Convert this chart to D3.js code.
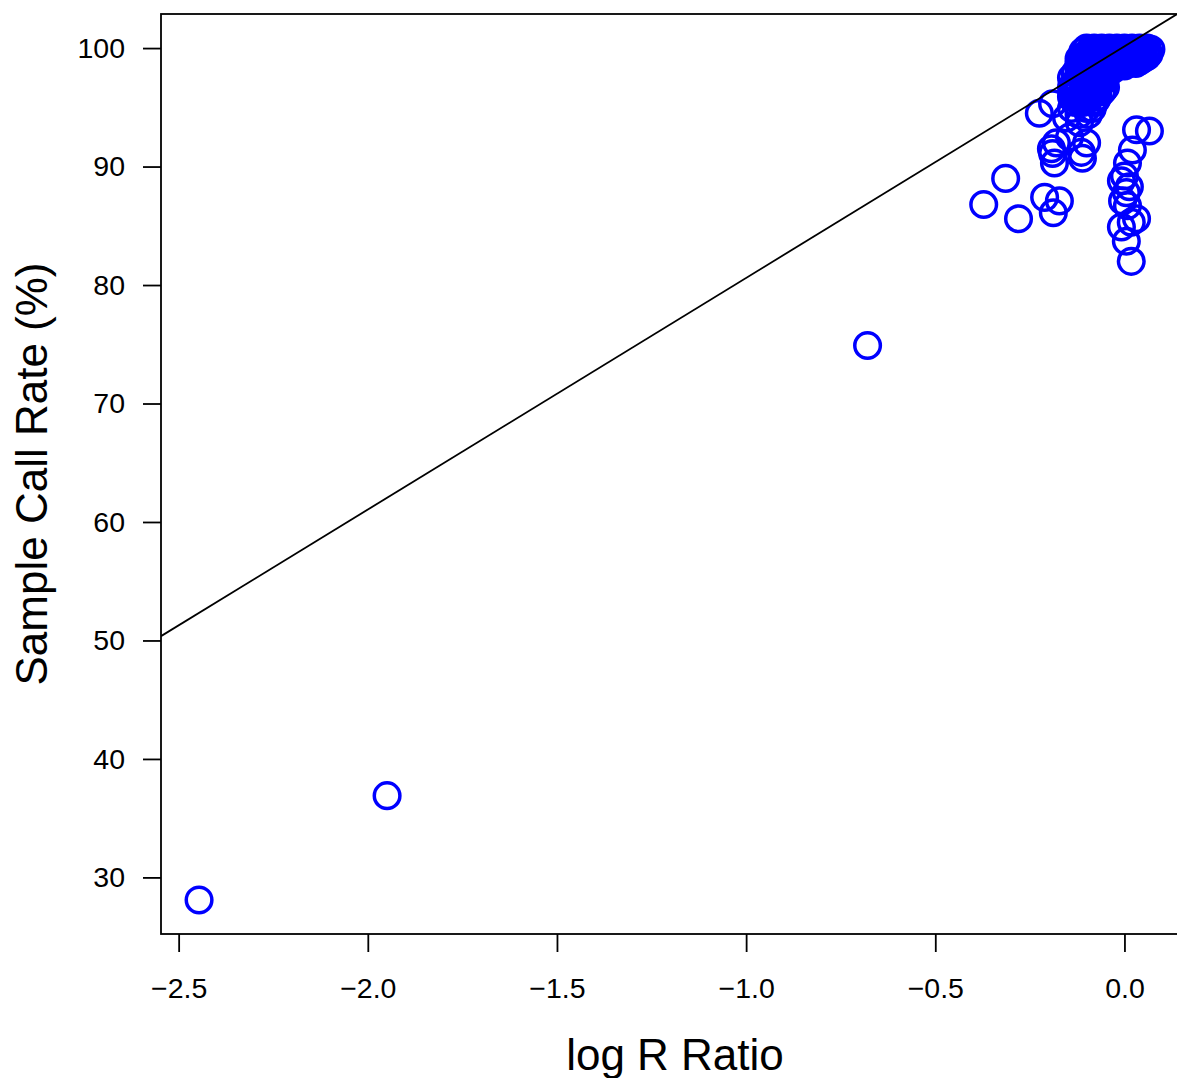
<!DOCTYPE html>
<html>
<head>
<meta charset="utf-8">
<script src="https://cdn.jsdelivr.net/npm/d3@7"></script>
<style>
  body { margin: 0; background: #fff; }
  svg text { font-family: "Liberation Sans", Arial, Helvetica, sans-serif; fill: #000; }
</style>
</head>
<body>
<svg id="chart"></svg>
<script>
// samples: [log R ratio, call rate %]
var outliers = [[-2.446, 28.1], [-1.949, 36.9], [-0.679, 74.9]];

var midGroup = [
  [-0.372, 86.8], [-0.314, 89.0], [-0.280, 85.6], [-0.211, 87.4],
  [-0.188, 86.1], [-0.172, 87.1], [-0.225, 94.5], [-0.190, 95.3]
];

var trail = [
  [-0.153, 94.1], [-0.119, 93.7], [-0.145, 92.5], [-0.100, 92.0],
  [-0.180, 92.0], [-0.193, 91.5], [-0.114, 91.2], [-0.190, 91.1],
  [-0.111, 90.7], [-0.185, 90.3]
];

var rightColumn = [
  [0.032, 93.1], [0.066, 93.0], [0.021, 91.4], [0.008, 90.3],
  [0.000, 89.2], [-0.008, 88.8], [0.013, 88.3], [0.005, 87.8],
  [-0.005, 87.1], [0.008, 86.7], [0.032, 85.6], [0.018, 85.3],
  [-0.008, 84.9], [0.005, 83.7], [0.018, 82.0]
];

var lowerCluster = [
  [-0.13, 97.9], [-0.11, 97.9], [-0.08, 97.9], [-0.06, 97.9],
  [-0.12, 97.7], [-0.095, 97.7], [-0.07, 97.7],
  [-0.14, 97.5], [-0.11, 97.5], [-0.09, 97.5], [-0.07, 97.5], [-0.05, 97.5],
  [-0.125, 97.3], [-0.10, 97.3], [-0.075, 97.3], [-0.055, 97.3],
  [-0.13, 97.1], [-0.10, 97.1], [-0.08, 97.1], [-0.06, 97.1],
  [-0.135, 96.9], [-0.11, 96.9], [-0.085, 96.9], [-0.065, 96.9],
  [-0.14, 96.7], [-0.12, 96.7], [-0.09, 96.7], [-0.07, 96.7], [-0.05, 96.7],
  [-0.125, 96.5], [-0.10, 96.5], [-0.075, 96.5], [-0.055, 96.5],
  [-0.13, 96.3], [-0.10, 96.3], [-0.08, 96.3], [-0.06, 96.3],
  [-0.135, 96.1], [-0.11, 96.1], [-0.085, 96.1],
  [-0.14, 95.9], [-0.12, 95.9], [-0.09, 95.9], [-0.07, 95.9],
  [-0.125, 95.6], [-0.10, 95.6], [-0.075, 95.6],
  [-0.13, 95.4], [-0.11, 95.4], [-0.08, 95.4],
  [-0.14, 94.9], [-0.10, 94.9], [-0.085, 94.9],
  [-0.12, 94.4], [-0.095, 94.4]
];

var topCluster = [
  [-0.10, 100.0], [-0.08, 100.0], [-0.06, 100.0], [-0.04, 100.0], [-0.02, 100.0],
  [0.00, 100.0], [0.02, 100.0], [0.04, 100.0], [0.06, 100.0],
  [-0.09, 99.9], [-0.07, 99.9], [-0.05, 99.9], [-0.03, 99.9], [-0.01, 99.9],
  [0.01, 99.9], [0.03, 99.9], [0.05, 99.9], [0.07, 99.9],
  [-0.11, 99.7], [-0.08, 99.7], [-0.06, 99.7], [-0.04, 99.7], [-0.02, 99.7],
  [0.00, 99.7], [0.02, 99.7], [0.04, 99.7], [0.06, 99.7],
  [-0.10, 99.5], [-0.07, 99.5], [-0.05, 99.5], [-0.03, 99.5], [-0.01, 99.5],
  [0.01, 99.5], [0.03, 99.5], [0.05, 99.5], [0.065, 99.5],
  [-0.11, 99.3], [-0.09, 99.3], [-0.06, 99.3], [-0.04, 99.3], [-0.02, 99.3],
  [0.00, 99.3], [0.02, 99.3], [0.04, 99.3], [0.06, 99.3],
  [-0.12, 99.1], [-0.10, 99.1], [-0.07, 99.1], [-0.05, 99.1], [-0.03, 99.1],
  [-0.01, 99.1], [0.01, 99.1], [0.03, 99.1], [0.05, 99.1],
  [-0.11, 98.9], [-0.08, 98.9], [-0.06, 98.9], [-0.04, 98.9], [-0.02, 98.9],
  [0.00, 98.9], [0.02, 98.9], [0.04, 98.9],
  [-0.12, 98.7], [-0.09, 98.7], [-0.07, 98.7], [-0.05, 98.7], [-0.03, 98.7],
  [-0.01, 98.7], [0.01, 98.7], [0.03, 98.7],
  [-0.12, 98.5], [-0.08, 98.5], [-0.06, 98.5], [-0.04, 98.5], [-0.02, 98.5], [0.00, 98.5],
  [-0.12, 98.2], [-0.10, 98.2], [-0.07, 98.2], [-0.05, 98.2], [-0.03, 98.2]
];

var xTicks = [-2.5, -2.0, -1.5, -1.0, -0.5, 0.0];
var yTicks = [30, 40, 50, 60, 70, 80, 90, 100];
var lineIntercept = 100.15, lineSlope = 19.55;

var samples = outliers.concat(midGroup, trail, rightColumn, lowerCluster, topCluster);

var W = 1177, H = 1078;
var margin = {top: 14, left: 161, bottom: 144},
  plotW = 1028,
  plotH = H - margin.top - margin.bottom;

var svg = d3.select('#chart').attr('width', W).attr('height', H);

// R style: pad the data range by 4% on each side
var xExt = d3.extent(samples, function(d) { return d[0]; }),
  yExt = d3.extent(samples, function(d) { return d[1]; });
var xPad = (xExt[1] - xExt[0]) * 0.04, yPad = (yExt[1] - yExt[0]) * 0.04;
var x = d3.scaleLinear().domain([xExt[0] - xPad, xExt[1] + xPad]).range([0, plotW]);
var y = d3.scaleLinear().domain([yExt[0] - yPad, yExt[1] + yPad]).range([plotH, 0]);

var g = svg.append('g')
  .attr('transform', 'translate(' + margin.left + ',' + margin.top + ')');

svg.append('clipPath').attr('id', 'plotclip')
  .append('rect').attr('width', plotW).attr('height', plotH);

var xAxis = d3.axisBottom(x).tickValues(xTicks).tickFormat(d3.format('.1f'))
  .tickSize(18).tickPadding(26);
var yAxis = d3.axisLeft(y).tickValues(yTicks).tickSize(18).tickPadding(18);

var gx = g.append('g').attr('transform', 'translate(0,' + plotH + ')').call(xAxis);
var gy = g.append('g').call(yAxis);
[gx, gy].forEach(function(a) {
  a.select('.domain').remove();
  a.selectAll('line').attr('stroke', '#000').attr('stroke-width', 1.8);
  a.selectAll('text').style('font-size', '28.5px').attr('fill', '#000');
});

var inner = g.append('g').attr('clip-path', 'url(#plotclip)');

inner.selectAll('circle')
  .data(samples)
  .enter().append('circle')
  .attr('cx', function(d) { return x(d[0]); })
  .attr('cy', function(d) { return y(d[1]); })
  .attr('r', 12.8)
  .attr('fill', 'none')
  .attr('stroke', '#0000ff')
  .attr('stroke-width', 3.5);

var xd = x.domain();
inner.append('line')
  .attr('x1', x(xd[0])).attr('y1', y(lineIntercept + lineSlope * xd[0]))
  .attr('x2', x(xd[1])).attr('y2', y(lineIntercept + lineSlope * xd[1]))
  .attr('stroke', '#000').attr('stroke-width', 1.8);

g.append('rect')
  .attr('width', plotW).attr('height', plotH)
  .attr('fill', 'none').attr('stroke', '#000').attr('stroke-width', 1.8);

svg.append('text')
  .attr('x', margin.left + plotW / 2).attr('y', 1070)
  .attr('text-anchor', 'middle')
  .style('font-size', '44px')
  .text('log R Ratio');

svg.append('text')
  .attr('transform', 'translate(47,' + (margin.top + plotH / 2) + ') rotate(-90)')
  .attr('text-anchor', 'middle')
  .style('font-size', '44px')
  .text('Sample Call Rate (%)');
</script>
</body>
</html>
